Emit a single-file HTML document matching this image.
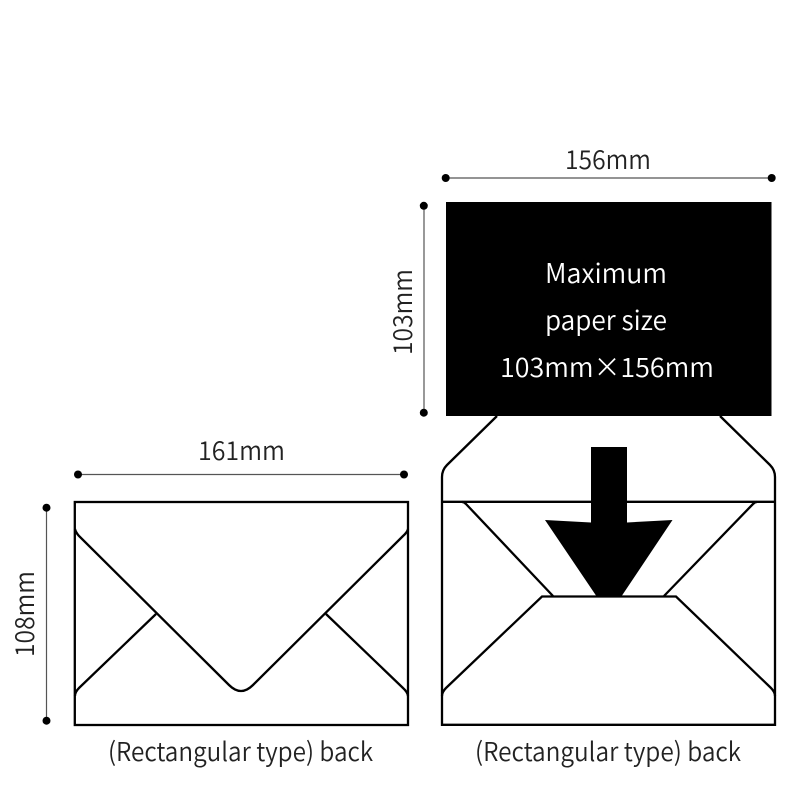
<!DOCTYPE html>
<html>
<head>
<meta charset="utf-8">
<style>
html,body{margin:0;padding:0;background:#fff}
svg{display:block}
text{font-family:"Noto Sans CJK JP","Liberation Sans",sans-serif;font-size:26px;font-weight:350;fill:#222}
.w{fill:#fff;font-size:27px}
</style>
</head>
<body>
<svg width="800" height="800" viewBox="0 0 800 800" xmlns="http://www.w3.org/2000/svg">
<rect width="800" height="800" fill="#fff"/>
<!-- Left envelope -->
<g fill="none" stroke="#000" stroke-width="2.300">
<rect x="74.800" y="502" width="333.200" height="223"/>
<path d="M75 529Q75.500 532 79 536L229 685Q235 691 241 691Q247 691 253 685L403 536Q407.500 532 408 529"/>
<path d="M156 614L79 688Q75 692 75 696"/>
<path d="M326 614L403 688Q407.500 692 408 696"/>
<!-- Right envelope -->
<path d="M442 502V724.800H775V502"/>
<path d="M442 502V477Q442 470 447 465L497 416"/>
<path d="M775 502V477Q775 470 770 465L720 416"/>
<path d="M442 501.800H775"/>
<path d="M442 696Q442 692 446 688L542 596.500H676L771 688Q775 692 775 696"/>
<path d="M462 502Q464 502 466 504L553 596"/>
<path d="M757 502Q755 502 753 504L664 596"/>
</g>
<!-- Paper -->
<rect x="446" y="202" width="325.500" height="214" fill="#000"/>
<!-- Arrow -->
<polygon points="591,447 627,447 627,522.500 672.500,520 621,597 597,597 545,520 591,522.500" fill="#000"/>
<!-- Dimensions -->
<g stroke="#555" stroke-width="1.200" fill="none">
<path d="M445.500 178H772"/>
<path d="M424 206V412.500"/>
<path d="M78 474.500H404"/>
<path d="M46.500 508V721"/>
</g>
<g fill="#000">
<circle cx="445.700" cy="178" r="4"/>
<circle cx="771.700" cy="178" r="4"/>
<circle cx="423.800" cy="205.800" r="4"/>
<circle cx="423.800" cy="412.700" r="4"/>
<circle cx="78" cy="474.500" r="4"/>
<circle cx="404" cy="474.500" r="4"/>
<circle cx="46.500" cy="507.700" r="4"/>
<circle cx="46.500" cy="720.700" r="4"/>
</g>
<!-- Labels -->
<text x="565" y="169" textLength="86" lengthAdjust="spacingAndGlyphs">156mm</text>
<text x="198" y="460" textLength="87" lengthAdjust="spacingAndGlyphs">161mm</text>
<text transform="translate(412,355) rotate(-90)" textLength="86" lengthAdjust="spacingAndGlyphs">103mm</text>
<text transform="translate(34,657) rotate(-90)" textLength="86" lengthAdjust="spacingAndGlyphs">108mm</text>
<text class="w" x="545" y="283" textLength="122" lengthAdjust="spacingAndGlyphs">Maximum</text>
<text class="w" x="545" y="330" textLength="122" lengthAdjust="spacingAndGlyphs">paper size</text>
<text class="w" x="500" y="377" textLength="214" lengthAdjust="spacingAndGlyphs">103mm×156mm</text>
<text x="108" y="761" textLength="265" lengthAdjust="spacingAndGlyphs">(Rectangular type) back</text>
<text x="475" y="761" textLength="266" lengthAdjust="spacingAndGlyphs">(Rectangular type) back</text>
</svg>
</body>
</html>
